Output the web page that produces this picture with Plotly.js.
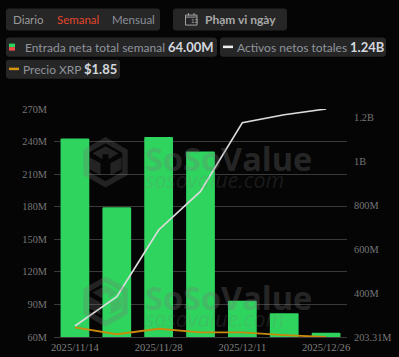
<!DOCTYPE html>
<html>
<head>
<meta charset="utf-8">
<script src="https://cdn.plot.ly/plotly-3.0.1.min.js"></script>
<style>html,body{margin:0;padding:0;background:#050505;overflow:hidden}#c{width:399px;height:357px}</style>
</head>
<body>
<div id="c"></div>
<script>
const dates = ['2025/11/14','2025/11/21','2025/11/28','2025/12/05','2025/12/11','2025/12/19','2025/12/26'];
const shownDates = ['2025/11/14','2025/11/28','2025/12/11','2025/12/26'];
const netInflow = [242.9, 179.6, 244.2, 230.9, 93.5, 81.9, 64.0];
const netAssets = [253, 387, 690, 865, 1178, 1214, 1240];
const xrpPrice = [2.27, 1.97, 2.21, 2.05, 2.05, 1.93, 1.85];
const leftTicks = [60, 90, 120, 150, 180, 210, 240, 270];
const rightTicks = [203.31, 400, 600, 800, 1000, 1200];
const rightLabels = ['203.31M', '400M', '600M', '800M', '1B', '1.2B'];

const M = {l: 54, r: 52, t: 109.3, b: 20};
const W = 399, H = 357;
const PW = W - M.l - M.r, PH = H - M.t - M.b;
const px = x => (x - M.l) / PW;
const py = y => (H - M.b - y) / PH;
const SANS = 'Lato, sans-serif';
const SERIF = '"Liberation Serif", serif';

function label(text, x, y, color, size, bold, family) {
  return {text: bold ? '<b>' + text + '</b>' : text, x: px(x), y: py(y), xref: 'paper', yref: 'paper',
    xanchor: 'left', yanchor: 'middle', showarrow: false, borderpad: 0, align: 'left',
    font: {family: family || SANS, size, color}};
}
function poly(pts) {
  return 'M' + pts.map(p => px(p[0]) + ' ' + py(p[1])).join(' L') + ' Z';
}
function pill(x0, y0, x1, y1, fill, r) {
  r = r === undefined ? 3 : r;
  const seg = [];
  const arc = (cx, cy, a0) => { for (let i = 0; i <= 4; i++) { const a = a0 + i * Math.PI / 8; seg.push([cx + r * Math.cos(a), cy + r * Math.sin(a)]); } };
  arc(x1 - r, y0 + r, -Math.PI / 2); arc(x1 - r, y1 - r, 0); arc(x0 + r, y1 - r, Math.PI / 2); arc(x0 + r, y0 + r, Math.PI);
  return {type: 'path', path: poly(seg), xref: 'paper', yref: 'paper', fillcolor: fill, line: {width: 0}, layer: 'below'};
}
function logo(cx, cy) {
  const hex = (r) => [[0, -r], [r * .88, -r / 2], [r * .88, r / 2], [0, r], [-r * .88, r / 2], [-r * .88, -r / 2]].map(p => [cx + p[0], cy + p[1]]);
  const off = pts => pts.map(p => [cx + p[0], cy + p[1]]);
  const wm = 'rgba(120,120,120,0.27)';
  const mk = path => ({type: 'path', path, xref: 'paper', yref: 'paper', fillcolor: wm, line: {width: 0}, layer: 'above'});
  return [
    mk(poly(hex(25.2)) + ' ' + poly(hex(19))),
    mk(poly(off([[0, -16], [13, -9], [3, -3], [3, -8], [-3, -8], [-3, -3], [-13, -9]]))),
    mk(poly(off([[-16, -5], [-5, 1], [-5, 13], [-16, 7]]))),
    mk(poly(off([[16, -5], [5, 1], [5, 13], [16, 7]])))
  ];
}

const wmFamily = '"Open Sans", sans-serif';
const watermark = '<span style="font-size:32.5px;font-weight:bold;color:rgba(120,120,120,0.3)">SoSoValue</span><br>'
  + '<span style="font-size:21.5px;font-style:italic;color:rgba(120,120,120,0.2)">sosovalue.com</span>';
const annotations = [
  label('Diario', 12, 20, '#9a9a9a', 11.5),
  label('Semanal', 56, 20, '#e5452b', 11.5),
  label('Mensual', 110.5, 20, '#8b9099', 11.5),
  label('Phạm vi ngày', 204, 20, '#a8a8a8', 12, true),
  label('12', 190, 21.3, '#a8a8a8', 6),
  label('Entrada neta total semanal', 24, 47.5, '#8f949c', 12),
  label('64.00M', 166.5, 47.5, '#d4d8de', 13, true),
  label('Activos netos totales', 235.5, 47.5, '#8f949c', 12),
  label('1.24B', 348.5, 47.5, '#d4d8de', 13, true),
  label('Precio XRP', 21.5, 69.5, '#8f949c', 12),
  label('$1.85', 83, 69.5, '#d4d8de', 13, true),
  label(watermark, 144, 165, '#777', 13, false, wmFamily),
  label(watermark, 144, 304, '#777', 13, false, wmFamily)
];

const rect = (x0, y0, x1, y1, fill) => ({type: 'rect', xref: 'paper', yref: 'paper', x0: px(x0), x1: px(x1), y0: py(y0), y1: py(y1), fillcolor: fill, line: {width: 0}, layer: 'above'});
const calLine = (x0, y0, x1, y1) => ({type: 'line', xref: 'paper', yref: 'paper', x0: px(x0), x1: px(x1), y0: py(y0), y1: py(y1), line: {color: '#a0a0a0', width: 1}, layer: 'above'});
const shapes = [
  pill(6, 9, 160, 31, '#262626'),
  pill(173, 9, 287, 31, '#262626'),
  pill(6, 38, 217, 57, '#262626'),
  pill(220, 38, 386, 57, '#262626'),
  pill(6, 60, 120, 79, '#262626'),
  rect(9, 44, 15, 47.5, '#2fd45e'),
  rect(9, 47.5, 15, 51, '#f04b4b'),
  rect(223, 46, 233, 48.5, '#f0f0f0'),
  rect(9, 68, 19, 70.5, '#d4940f'),
  calLine(185.5, 15.5, 197, 15.5), calLine(185.5, 25.5, 197, 25.5),
  calLine(185.5, 15.5, 185.5, 25.5), calLine(197, 15.5, 197, 25.5),
  calLine(185.5, 17.5, 197, 17.5), calLine(188.5, 13.5, 188.5, 16), calLine(194, 13.5, 194, 16),
  ...logo(105.5, 162.5),
  ...logo(105.5, 301.5)
];

const traces = [
  {type: 'bar', x: dates, y: netInflow, width: 0.687, marker: {color: '#2fd45e', cornerradius: 1.5}, hoverinfo: 'skip'},
  {type: 'scatter', mode: 'lines', x: dates, y: netAssets, yaxis: 'y2', line: {color: '#dcdcdc', width: 1.7}, hoverinfo: 'skip'},
  {type: 'scatter', mode: 'lines', x: dates, y: xrpPrice, yaxis: 'y3', line: {color: '#c98a0c', width: 1.8}, hoverinfo: 'skip'}
];

const tickFont = {family: SERIF, size: 10.3, color: '#767676'};
const layout = {
  width: W, height: H, autosize: false,
  margin: M, paper_bgcolor: '#050505', plot_bgcolor: '#050505',
  showlegend: false,
  xaxis: {type: 'category', categoryorder: 'array', categoryarray: dates, range: [-0.5, 6.5],
    tickmode: 'array', tickvals: shownDates, ticktext: shownDates, tickangle: 0, showgrid: false,
    zeroline: false, showline: true, linecolor: '#3a3a3a', linewidth: 1, ticks: '',
    tickfont: {family: SERIF, size: 10.6, color: '#808080'}},
  yaxis: {range: [60, 270], tickmode: 'array', tickvals: leftTicks, ticktext: leftTicks.map(v => v + 'M'),
    showgrid: true, gridcolor: '#3a3a3a', gridwidth: 1, zeroline: false, showline: false,
    ticks: 'outside', ticklen: 4, tickcolor: 'rgba(0,0,0,0)', tickfont: tickFont},
  yaxis2: {overlaying: 'y', side: 'right', range: [203.31, 1240], tickmode: 'array', tickvals: rightTicks, ticktext: rightLabels,
    showgrid: false, zeroline: false, showline: false, ticks: 'outside', ticklen: 4, tickcolor: 'rgba(0,0,0,0)', tickfont: tickFont},
  yaxis3: {overlaying: 'y', side: 'right', range: [1.85, 11.8], visible: false},
  annotations, shapes
};
Plotly.newPlot('c', traces, layout, {displayModeBar: false, staticPlot: true});
</script>
</body>
</html>
